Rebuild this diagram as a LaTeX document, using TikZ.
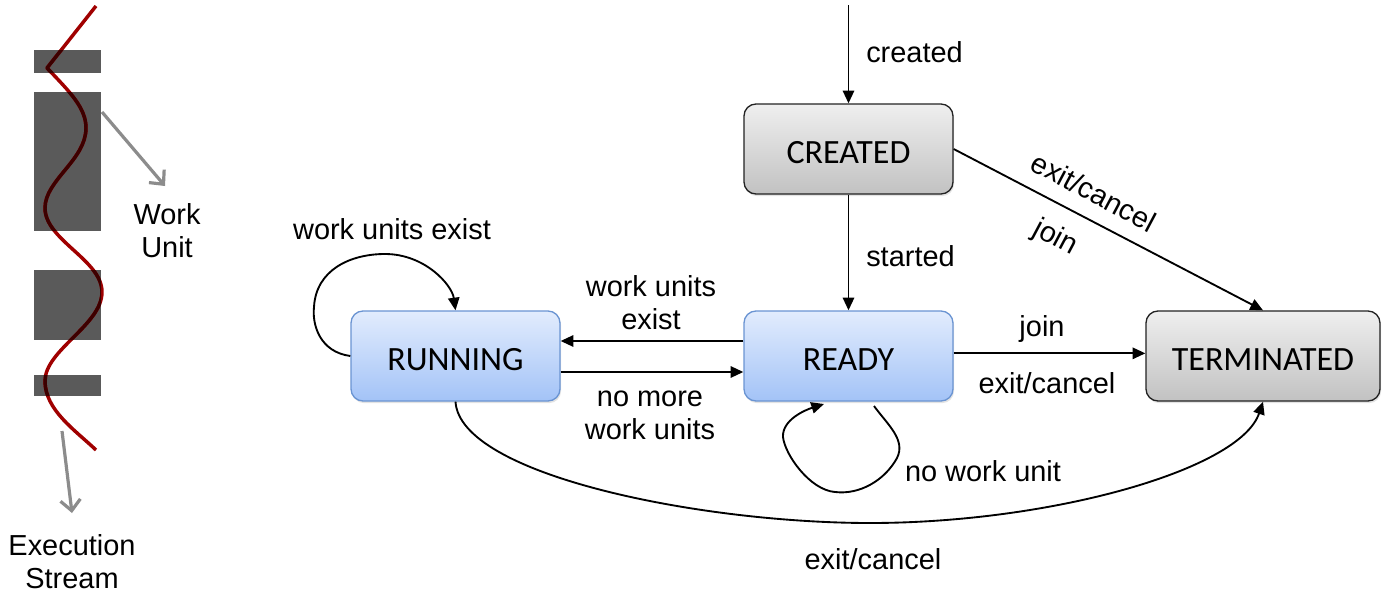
\documentclass[tikz,border=0pt]{standalone}
\usepackage{fontspec}
\setmainfont{Liberation Sans}
\newfontfamily\boxfont{Carlito}
\usetikzlibrary{arrows.meta,calc,shadows}
\definecolor{wavered}{HTML}{A00000}
\definecolor{wavedark}{HTML}{3C0000}
\definecolor{blockgray}{HTML}{5A5A5A}
\definecolor{arrowgray}{HTML}{8C8C8C}
\definecolor{bluetop}{HTML}{E2ECFD}
\definecolor{bluebot}{HTML}{A3C3F7}
\definecolor{blueedge}{HTML}{6A94D2}
\definecolor{graytop}{HTML}{EFEFEF}
\definecolor{graybot}{HTML}{C2C2C2}
\definecolor{grayedge}{HTML}{222222}
\tikzset{
  statebox/.style={rounded corners=9pt, minimum height=67.5pt, line width=1pt,
    font=\boxfont\fontsize{25.5}{28}\selectfont, inner sep=0pt,
    text height=22pt, text depth=0pt,
    drop shadow={shadow xshift=0.8pt, shadow yshift=-1.6pt, opacity=0.22}},
  bluebox/.style={statebox, draw=blueedge, top color=bluetop, bottom color=bluebot,
    minimum width=156.75pt},
  graybox/.style={statebox, draw=grayedge, top color=graytop, bottom color=graybot},
  lbl/.style={font=\fontsize{21.7}{24.75}\selectfont, align=center, inner sep=0pt},
  edge/.style={line width=1.4pt, -{Triangle[length=9.5pt,width=8.5pt]}},
  grayarrow/.style={draw=arrowgray, line width=2.4pt, -{Straight Barb[length=8pt,width=15pt,line width=2.4pt]}},
  block/.style={fill=blockgray, draw=none}
}
\begin{document}
\begin{tikzpicture}[x=0.75pt,y=-0.75pt]
\useasboundingbox (0,0) rectangle (1386,604);
% --- left: execution stream and work units
\fill[block] (34,50) rectangle (101,73);
\fill[block] (34,92) rectangle (101,231);
\fill[block] (34,270) rectangle (101,340);
\fill[block] (34,375) rectangle (101,396);
\def\wavepath{(96,6) -- (47,68) .. controls (70,92) and (86,108) .. (86,128) .. controls (86,160) and (45,180) .. (45,208) .. controls (45,240) and (102,260) .. (102,292) .. controls (102,325) and (45,350) .. (45,381) .. controls (45,410) and (75,430) .. (96,450)}
\draw[wavered, line width=2.6pt, line join=round] \wavepath;
\begin{scope}
  \clip (34,50) rectangle (101,73) (34,92) rectangle (101,231) (34,270) rectangle (101,340) (34,375) rectangle (101,396);
  \draw[wavedark, line width=2.6pt, line join=round] \wavepath;
\end{scope}
\coordinate (wuS) at (102,112);
\coordinate (wuE) at (165,186);
\coordinate (esS) at (62,431);
\coordinate (esE) at (72,513);
\draw[grayarrow] (wuS) -- (wuE);
\draw[grayarrow] (esS) -- (esE);
\node[lbl] (workunit) at (167,231) {Work\\Unit};
\node[lbl] (execstream) at (72,562) {Execution\\Stream};
% --- states
\node[graybox, minimum width=156.75pt] (created) at (848.5,149) {CREATED};
\node[bluebox] (ready) at (848.5,356) {READY};
\node[bluebox] (running) at (455.5,356) {RUNNING};
\node[graybox, minimum width=175.5pt] (terminated) at (1263,356) {TERMINATED};
% --- transitions
\coordinate (entry) at (848.5,5);
\draw[edge] (entry) -- (created.north);
\node[lbl, anchor=west] (lcreated) at (866,52) {created};
\draw[edge] (created.south) -- (ready.north);
\node[lbl, anchor=west] (lstarted) at (866,256) {started};
\draw[edge] (created.east) -- (terminated.north);
\node[lbl, rotate=-28] (lexit1) at (1094,192) {exit/cancel};
\node[lbl, rotate=-28] (ljoin1) at (1055,238) {join};
\draw[edge] ([yshift=2pt]ready.east) -- ([yshift=2pt]terminated.west);
\node[lbl] (ljoin2) at (1042,329) {join};
\node[lbl] (lexit2) at (1047,383) {exit/cancel};
\draw[edge] ([yshift=11.25pt]ready.west) -- ([yshift=11.25pt]running.east);
\node[lbl] (lwue) at (651,303) {work units\\exist};
\draw[edge] ([yshift=-12pt]running.east) -- ([yshift=-12pt]ready.west);
\node[lbl] (lnomore) at (650,415) {no more\\work units};
\draw[edge] (running.west) .. controls (320,352) and (312,325) .. (314,307) .. controls (316,270) and (350,254) .. (385,254) .. controls (425,254) and (452,285) .. (running.north);
\node[lbl] (lwue2) at (392,229) {work units exist};
\coordinate (rloopS) at (874,406);
\coordinate (rloopE) at (824,404);
\draw[edge] (rloopS) .. controls (888,425) and (906,440) .. (897,458) .. controls (885,480) and (860,495) .. (835,492) .. controls (810,490) and (785,455) .. (783,437) .. controls (782,420) and (805,410) .. (rloopE);
\node[lbl] (lnowork) at (983,471) {no work unit};
\draw[edge] (running.south) .. controls (460,475) and (700,523) .. (870,523) .. controls (1050,523) and (1240,470) .. (terminated.south);
\node[lbl] (lexit3) at (873,559) {exit/cancel};
\end{tikzpicture}
\end{document}
